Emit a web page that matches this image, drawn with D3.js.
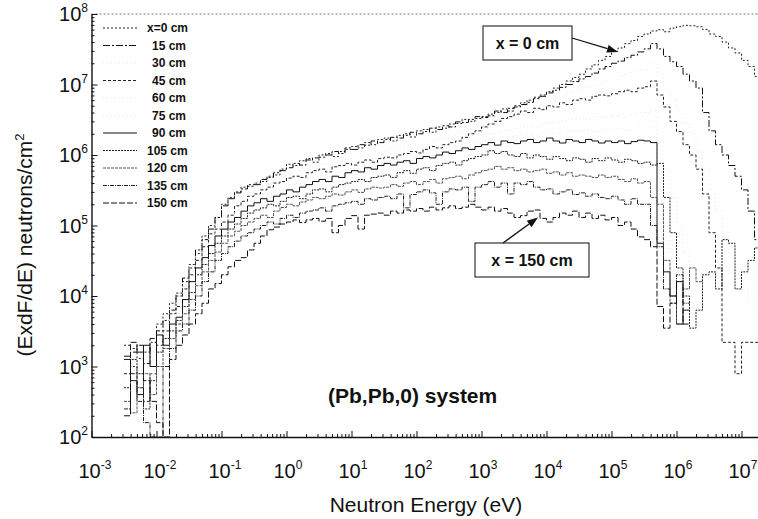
<!DOCTYPE html>
<html>
<head>
<meta charset="utf-8">
<script src="https://cdn.jsdelivr.net/npm/d3@7"></script>
<style>
  body { margin: 0; background: #fff; }
  text { font-family: "Liberation Sans", Arial, Helvetica, sans-serif; fill: #111; }
</style>
</head>
<body>
<div id="chart"></div>
<script>
// energy bins: 10 per decade starting at 10^-2.5 eV (lower edges)
var binStartExp = -2.5, binsPerDecade = 10;

// (E x dF/dE) per bin
var flux0cm = [2.0e3,1.8e3,1.3e3,1.6e3,2.2e3,4.0e3,5.6e3,7.9e3,1.0e4,1.6e4,
  2.8e4,4.0e4,7.1e4,1.0e5,1.3e5,2.0e5,2.5e5,3.0e5,3.5e5,3.8e5,
  4.0e5,4.2e5,5.0e5,5.2e5,6.3e5,7.4e5,7.1e5,8.3e5,8.9e5,7.9e5,
  1.0e6,1.05e6,9.5e5,1.12e6,1.2e6,1.32e6,1.26e6,1.5e6,1.4e6,1.66e6,
  1.74e6,1.58e6,1.9e6,2.0e6,1.8e6,2.2e6,2.3e6,2.1e6,2.5e6,2.4e6,
  2.75e6,2.8e6,3.2e6,3.0e6,3.3e6,3.5e6,3.8e6,4.0e6,4.5e6,4.2e6,
  5.0e6,5.5e6,6.0e6,6.6e6,7.1e6,7.9e6,8.9e6,1.0e7,1.12e7,1.26e7,
  1.4e7,1.66e7,1.9e7,2.2e7,2.5e7,2.95e7,3.3e7,3.8e7,4.2e7,4.8e7,
  5.2e7,5.75e7,6.0e7,5.6e7,6.3e7,6.6e7,6.9e7,6.8e7,6.6e7,6.0e7,
  5.2e7,4.8e7,4.0e7,3.3e7,2.8e7,2.2e7,1.8e7,1.3e7];
var flux15cm = [1.4e3,1.6e3,2.0e3,1.1e3,2.5e3,3.2e3,4.5e3,6.3e3,1.1e4,1.8e4,
  2.5e4,4.5e4,6.3e4,8.9e4,1.3e5,1.9e5,2.4e5,2.9e5,3.3e5,3.6e5,
  3.8e5,4.5e5,4.8e5,5.6e5,6.0e5,6.6e5,7.6e5,7.2e5,8.5e5,9.1e5,
  9.3e5,1.0e6,1.12e6,1.05e6,1.26e6,1.2e6,1.4e6,1.38e6,1.58e6,1.5e6,
  1.66e6,1.78e6,1.74e6,1.9e6,2.1e6,2.0e6,2.15e6,2.4e6,2.3e6,2.6e6,
  2.5e6,2.95e6,2.9e6,3.2e6,3.5e6,3.4e6,3.6e6,4.2e6,4.0e6,4.6e6,
  4.8e6,5.2e6,5.6e6,6.3e6,6.8e6,7.6e6,8.3e6,9.1e6,1.0e7,1.1e7,
  1.2e7,1.3e7,1.45e7,1.66e7,1.8e7,2.0e7,2.15e7,2.4e7,2.6e7,2.9e7,
  3.2e7,3.8e7,3.2e7,2.5e7,2.1e7,1.8e7,1.4e7,1.12e7,8.9e6,4.0e6,
  2.2e6,1.4e6,1.0e6,7.1e5,5.0e5,3.2e5,1.6e5,6.3e4];
var flux30cm = [1.0e3,1.26e3,7.9e2,1.0e3,1.6e3,2.5e3,3.5e3,5.0e3,7.9e3,1.26e4,
  2.2e4,3.5e4,5.6e4,7.9e4,1.05e5,1.3e5,1.66e5,2.1e5,2.5e5,2.95e5,
  3.3e5,3.7e5,4.0e5,4.6e5,5.0e5,5.5e5,5.75e5,6.0e5,6.6e5,6.9e5,
  7.4e5,7.6e5,7.9e5,8.3e5,8.9e5,9.1e5,9.5e5,1.0e6,1.05e6,1.1e6,
  1.15e6,1.26e6,1.2e6,1.35e6,1.41e6,1.38e6,1.58e6,1.55e6,1.74e6,1.7e6,
  1.9e6,2.0e6,2.15e6,2.3e6,2.5e6,2.6e6,2.95e6,3.2e6,3.5e6,3.7e6,
  4.0e6,4.4e6,4.8e6,5.0e6,5.5e6,6.0e6,6.3e6,6.9e6,7.6e6,7.9e6,
  8.5e6,9.1e6,1.0e7,1.07e7,1.15e7,1.2e7,1.32e7,1.41e7,1.51e7,1.58e7,
  1.66e7,2.0e7,1.41e7,8.9e6,6.3e6,4.2e6,2.8e6,2.0e6,1.12e6,6.3e5,
  3.2e5,1.6e5,7.9e4,4.0e4,2.0e4,1.26e4,7.9e3,6.3e3];
var flux45cm = [7.9e2,1.0e3,5.0e2,3.2e2,7.9e2,2.0e3,3.2e3,5.6e3,7.1e3,1.26e4,
  2.0e4,3.2e4,5.0e4,7.6e4,8.9e4,1.12e5,1.4e5,1.9e5,2.2e5,2.6e5,
  2.8e5,3.2e5,3.5e5,4.0e5,4.2e5,4.7e5,5.0e5,4.8e5,5.6e5,6.0e5,
  6.3e5,5.75e5,6.8e5,7.1e5,7.6e5,7.2e5,7.9e5,8.5e5,7.9e5,8.9e5,
  9.3e5,9.1e5,1.0e6,1.05e6,1.12e6,1.07e6,1.2e6,1.32e6,1.26e6,1.4e6,
  1.5e6,1.58e6,1.78e6,2.0e6,2.2e6,2.5e6,2.75e6,3.0e6,3.3e6,3.5e6,
  3.8e6,4.2e6,4.0e6,4.6e6,4.4e6,5.0e6,4.8e6,5.5e6,5.2e6,6.0e6,
  6.3e6,6.0e6,6.8e6,7.1e6,6.9e6,7.4e6,7.9e6,8.3e6,7.9e6,8.9e6,
  9.3e6,1.12e7,7.1e6,4.8e6,3.0e6,2.15e6,1.4e6,1.0e6,6.3e5,2.8e5,
  7.9e4,2.5e4,2.2e3,2.2e3,7.9e2,2.2e3,2.2e3,2.2e3];
var flux60cm = [6.3e2,8.9e2,1.26e3,6.3e2,1.26e3,2.2e3,2.8e3,5.0e3,6.3e3,1.0e4,
  1.78e4,2.8e4,4.2e4,6.3e4,7.9e4,1.0e5,1.26e5,1.6e5,1.9e5,2.2e5,
  2.4e5,2.75e5,2.8e5,3.2e5,3.5e5,3.8e5,4.0e5,4.0e5,4.6e5,5.0e5,
  5.2e5,5.0e5,5.75e5,5.9e5,6.3e5,6.6e5,6.8e5,7.4e5,7.1e5,7.9e5,
  8.3e5,7.9e5,8.9e5,9.1e5,9.3e5,9.8e5,1.07e6,1.1e6,1.12e6,1.23e6,
  1.26e6,1.35e6,1.45e6,1.5e6,1.66e6,1.82e6,2.0e6,2.0e6,2.2e6,2.3e6,
  2.4e6,2.5e6,2.6e6,2.5e6,2.75e6,2.9e6,2.8e6,3.0e6,3.2e6,3.2e6,
  3.3e6,3.2e6,3.5e6,3.5e6,3.4e6,3.6e6,3.8e6,3.5e6,3.8e6,4.0e6,
  4.0e6,4.2e6,1.6e6,6.3e5,2.5e5,1.0e5,4.0e4,1.6e4,7.9e3,4.0e3];
var flux75cm = [4.0e2,1.0e3,6.3e2,1.26e3,7.9e2,2.0e3,2.5e3,4.0e3,5.6e3,8.9e3,
  1.6e4,2.5e4,3.8e4,5.6e4,7.6e4,9.5e4,1.2e5,1.41e5,1.74e5,2.0e5,
  2.2e5,2.5e5,2.5e5,2.9e5,3.2e5,3.5e5,3.4e5,3.8e5,4.0e5,4.4e5,
  4.8e5,4.6e5,5.2e5,5.2e5,5.9e5,6.3e5,6.0e5,6.9e5,6.8e5,7.4e5,
  7.9e5,7.6e5,8.3e5,8.7e5,8.3e5,9.3e5,1.0e6,9.8e5,1.07e6,1.15e6,
  1.12e6,1.23e6,1.32e6,1.32e6,1.45e6,1.58e6,1.66e6,1.58e6,1.78e6,1.82e6,
  1.9e6,2.0e6,2.0e6,1.9e6,2.1e6,2.2e6,2.0e6,2.1e6,2.24e6,2.15e6,
  2.24e6,2.3e6,2.15e6,2.24e6,2.4e6,2.3e6,2.4e6,2.24e6,2.34e6,2.5e6,
  2.4e6,2.5e6,4.0e5,1.0e5,4.0e4,1.6e4,7.9e3];
var flux90cm = [1.26e3,6.3e2,4.0e2,2.0e3,1.0e3,2.8e3,2.0e3,4.0e3,5.0e3,8.9e3,
  1.6e4,2.5e4,3.5e4,5.2e4,7.1e4,8.9e4,1.12e5,1.3e5,1.6e5,1.9e5,
  2.1e5,2.4e5,2.2e5,2.6e5,2.8e5,3.2e5,3.0e5,3.5e5,3.8e5,4.2e5,
  4.5e5,4.2e5,5.0e5,4.8e5,5.6e5,6.0e5,5.75e5,6.6e5,6.3e5,7.1e5,
  7.6e5,7.2e5,7.9e5,8.3e5,7.6e5,8.9e5,9.5e5,9.1e5,1.0e6,1.1e6,
  1.05e6,1.15e6,1.26e6,1.2e6,1.32e6,1.4e6,1.5e6,1.38e6,1.58e6,1.5e6,
  1.45e6,1.58e6,1.66e6,1.5e6,1.58e6,1.74e6,1.58e6,1.48e6,1.66e6,1.58e6,
  1.5e6,1.66e6,1.58e6,1.48e6,1.58e6,1.5e6,1.58e6,1.45e6,1.55e6,1.62e6,
  1.58e6,1.5e6,5.6e4,2.2e4,1.0e4,4.0e3,6.3e3];
var flux105cm = [5.0e2,1.26e3,7.9e2,2.5e2,6.3e2,1.6e3,2.5e3,3.2e3,4.5e3,7.1e3,
  1.12e4,2.0e4,2.8e4,4.0e4,5.6e4,7.1e4,8.9e4,1.05e5,1.26e5,1.5e5,
  1.66e5,1.78e5,2.0e5,1.9e5,2.2e5,2.5e5,2.6e5,2.4e5,2.8e5,3.2e5,
  3.3e5,3.0e5,3.5e5,3.8e5,4.0e5,4.2e5,4.5e5,4.2e5,4.8e5,5.0e5,
  5.2e5,4.8e5,5.6e5,6.0e5,5.5e5,6.3e5,6.6e5,6.0e5,7.1e5,7.6e5,
  7.9e5,7.2e5,8.3e5,8.9e5,9.5e5,1.0e6,1.15e6,1.05e6,1.12e6,1.0e6,
  9.5e5,1.05e6,9.1e5,1.0e6,9.5e5,8.7e5,9.5e5,8.9e5,8.3e5,9.1e5,
  8.7e5,7.9e5,8.9e5,8.3e5,9.1e5,8.5e5,7.9e5,8.7e5,8.3e5,7.6e5,
  7.9e5,7.2e5,7.6e5,2.5e5,7.9e4,2.5e4,1.0e4,3.5e3,6.3e3,2.0e4,
  2.2e4,1.26e4,6.3e4,5.6e4,1.26e4,2.2e4,3.2e4,4.8e4];
var flux120cm = [3.2e2,2.2e2,5.0e2,7.9e2,4.0e2,1.0e3,1.8e3,2.5e3,4.0e3,5.6e3,
  8.9e3,1.4e4,2.2e4,3.2e4,4.2e4,5.6e4,7.1e4,8.3e4,1.0e5,1.12e5,
  1.26e5,1.4e5,1.3e5,1.6e5,1.8e5,2.0e5,1.9e5,2.15e5,2.3e5,2.5e5,
  2.4e5,2.6e5,2.8e5,2.7e5,3.0e5,3.2e5,2.95e5,3.3e5,3.5e5,3.4e5,
  3.5e5,3.8e5,3.6e5,4.0e5,4.2e5,3.8e5,4.2e5,4.5e5,4.0e5,4.6e5,
  4.8e5,5.0e5,4.6e5,5.2e5,5.6e5,6.0e5,6.3e5,6.9e5,6.3e5,6.6e5,
  6.0e5,6.3e5,5.75e5,6.0e5,6.3e5,5.5e5,5.75e5,5.2e5,5.6e5,5.0e5,
  5.2e5,5.0e5,4.8e5,5.2e5,4.8e5,5.0e5,4.5e5,4.2e5,4.6e5,4.0e5,
  4.2e5,2.5e5,2.0e5,3.2e4,7.9e3,4.0e3,1.26e4,2.5e4,1.6e4];
var flux135cm = [2.5e2,7.9e2,3.2e2,1.6e2,1.0e2,1.0e2,1.0e3,1.8e3,3.2e3,4.0e3,
  6.3e3,1.0e4,1.6e4,2.2e4,3.2e4,4.0e4,5.0e4,6.0e4,7.1e4,7.9e4,
  8.9e4,1.0e5,1.12e5,1.05e5,1.26e5,1.4e5,1.3e5,1.5e5,1.6e5,1.66e5,
  1.78e5,1.6e5,1.9e5,2.0e5,2.1e5,2.2e5,2.0e5,2.4e5,2.3e5,2.5e5,
  2.6e5,2.4e5,2.8e5,1.78e5,2.75e5,3.0e5,3.2e5,2.9e5,2.0e5,3.0e5,
  3.3e5,3.2e5,3.5e5,2.2e5,3.5e5,3.8e5,4.2e5,3.5e5,4.0e5,2.8e5,
  4.0e5,3.8e5,4.2e5,3.5e5,3.2e5,3.3e5,2.8e5,3.0e5,3.2e5,2.75e5,
  2.9e5,2.6e5,2.8e5,2.5e5,2.4e5,2.6e5,2.3e5,2.0e5,2.4e5,2.0e5,
  2.0e5,1.0e5,5.0e4,1.26e4,1.0e4,2.0e4,7.9e3];
var flux150cm = [2.0e2,2.2e3,1.6e3,6.3e2,3.2e2,1.6e2,1.0e2,1.26e3,2.0e3,2.8e3,
  4.0e3,5.6e3,7.9e3,1.26e4,1.5e4,2.0e4,2.6e4,3.2e4,3.5e4,4.5e4,
  5.6e4,7.1e4,8.7e4,9.5e4,1.05e5,1.12e5,1.2e5,1.1e5,1.2e5,1.26e5,
  1.15e5,1.26e5,7.9e4,1.0e5,1.26e5,1.38e5,8.9e4,1.4e5,1.45e5,1.5e5,
  1.4e5,1.6e5,1.5e5,1.66e5,1.6e5,1.74e5,1.6e5,1.82e5,1.66e5,1.78e5,
  1.9e5,1.74e5,1.82e5,2.0e5,1.82e5,1.66e5,1.82e5,1.6e5,1.74e5,1.5e5,
  1.3e5,1.38e5,1.6e5,1.66e5,1.26e5,1.12e5,1.3e5,1.5e5,1.4e5,1.6e5,
  1.3e5,1.5e5,1.26e5,1.4e5,1.2e5,1.3e5,1.0e5,1.12e5,8.9e4,6.9e4,
  6.3e4,5.0e4,7.1e3,3.5e3,7.9e3,1.6e4,4.0e3];

var seriesNames = ['x=0 cm','15 cm','30 cm','45 cm','60 cm','75 cm','90 cm','105 cm','120 cm','135 cm','150 cm'];
var seriesValues = [flux0cm, flux15cm, flux30cm, flux45cm, flux60cm, flux75cm, flux90cm, flux105cm, flux120cm, flux135cm, flux150cm];
var seriesDash = ['2,2', '7,2,2,2', '1,3', '3,2', '1,3', '1,3', null, '2,1', '3,1', '4,1,1,1', '6,2'];
var seriesColor = ['#222', '#111', '#ebebeb', '#222', '#ebebeb', '#ebebeb', '#111', '#222', '#555', '#222', '#111'];

var xTickValues = [1e-3,1e-2,1e-1,1e0,1e1,1e2,1e3,1e4,1e5,1e6,1e7];
var xTickExp = ['-3','-2','-1','0','1','2','3','4','5','6','7'];
var yTickValues = [1e2,1e3,1e4,1e5,1e6,1e7,1e8];
var yTickExp = ['2','3','4','5','6','7','8'];

var W = 758, H = 519;
var plotLeft = 91.5, plotTop = 14, plotBottom = 437;

var svg = d3.select('#chart').append('svg')
  .attr('width', W)
  .attr('height', H);

var x = d3.scaleLog().domain([1e-3, 2e7]).range([plotLeft, plotLeft + 65 * Math.log10(2e10)]);
var y = d3.scaleLog().domain([1e2, 1e8]).range([plotBottom, plotTop]);

function binEdge(i){
  return Math.pow(10, binStartExp + i / binsPerDecade);
}

function minorTicks(majors){
  var out = [];
  majors.forEach(function(m){
    for (var k = 2; k <= 9; k++) out.push(m * k);
  });
  return out;
}

svg.append('defs').append('clipPath').attr('id', 'plotClip')
  .append('rect')
  .attr('x', plotLeft).attr('y', plotTop - 2)
  .attr('width', W - plotLeft).attr('height', plotBottom - plotTop + 2);

// top frame (faint dotted)
svg.append('line')
  .attr('x1', plotLeft).attr('x2', W)
  .attr('y1', plotTop).attr('y2', plotTop)
  .attr('stroke', '#777').attr('stroke-width', 1)
  .attr('stroke-dasharray', '2,2');

// histograms
var line = d3.line()
  .x(function(d){ return x(d[0]); })
  .y(function(d){ return y(Math.max(d[1], 1e2)); })
  .curve(d3.curveStepAfter);

var plot = svg.append('g').attr('clip-path', 'url(#plotClip)');
seriesValues.forEach(function(vals, s){
  var pts = vals.map(function(v, i){ return [binEdge(i), v]; });
  pts.push([binEdge(vals.length), vals[vals.length - 1]]);
  plot.append('path')
    .datum(pts)
    .attr('d', line)
    .attr('fill', 'none')
    .attr('stroke', seriesColor[s])
    .attr('stroke-width', 1)
    .attr('stroke-dasharray', seriesDash[s]);
});

// axes
var xAxis = svg.append('g').attr('transform', 'translate(0,' + plotBottom + ')');
xAxis.call(d3.axisBottom(x).tickValues(xTickValues).tickSize(-6).tickSizeOuter(0).tickFormat(''));
xAxis.append('g').call(d3.axisBottom(x).tickValues(minorTicks(xTickValues.slice(0, 10)).concat([2e7])).tickSize(-3).tickSizeOuter(0).tickFormat(''))
  .select('.domain').remove();

var yAxis = svg.append('g').attr('transform', 'translate(' + plotLeft + ',0)');
yAxis.call(d3.axisLeft(y).tickValues(yTickValues).tickSize(-6).tickSizeOuter(0).tickFormat(''));
yAxis.append('g').call(d3.axisLeft(y).tickValues(minorTicks(yTickValues.slice(0, 6))).tickSize(-3).tickSizeOuter(0).tickFormat(''))
  .select('.domain').remove();

svg.selectAll('.domain').attr('stroke', '#111').attr('stroke-width', 1.4);
svg.selectAll('.tick line').attr('stroke', '#111').attr('stroke-width', 1);

// tick labels with superscripts
var xl = svg.selectAll('.xlab')
  .data(xTickValues)
  .enter()
  .append('text')
  .attr('class', 'xlab')
  .attr('x', function(d){ return x(d) - 13; })
  .attr('y', 478)
  .style('font-size', '20px');
xl.append('tspan').text('10');
xl.append('tspan')
  .attr('dy', -9)
  .style('font-size', '12px')
  .text(function(d, i){ return xTickExp[i]; });

var yl = svg.selectAll('.ylab')
  .data(yTickValues)
  .enter()
  .append('text')
  .attr('class', 'ylab')
  .attr('x', 88)
  .attr('y', function(d){ return y(d) + 7; })
  .attr('text-anchor', 'end')
  .style('font-size', '20px');
yl.append('tspan').text('10');
yl.append('tspan')
  .attr('dy', -9)
  .style('font-size', '12px')
  .text(function(d, i){ return yTickExp[i]; });

// axis titles
svg.append('text')
  .attr('x', 426).attr('y', 512)
  .attr('text-anchor', 'middle')
  .style('font-size', '21px')
  .text('Neutron Energy (eV)');

var yt = svg.append('text')
  .attr('transform', 'translate(32,245) rotate(-90)')
  .attr('text-anchor', 'middle')
  .style('font-size', '21px');
yt.append('tspan').text('(ExdF/dE) neutrons/cm');
yt.append('tspan').attr('dy', -8).style('font-size', '13px').text('2');

// legend
var legend = svg.selectAll('.leg')
  .data(seriesNames)
  .enter()
  .append('g')
  .attr('class', 'leg')
  .attr('transform', function(d, i){ return 'translate(0,' + (28 + 17.5 * i) + ')'; });
legend.append('line')
  .attr('x1', 103).attr('x2', 137)
  .attr('stroke', function(d, i){ return seriesColor[i]; })
  .attr('stroke-width', 1)
  .attr('stroke-dasharray', function(d, i){ return seriesDash[i]; });
legend.append('text')
  .attr('x', function(d){ return d.length >= 6 ? 147 : 152; })
  .attr('y', 4)
  .style('font-size', '12px')
  .style('font-weight', 'bold')
  .text(function(d){ return d; });

// annotations
function callout(label, tipE, tipV, boxX, boxY, boxW, tailX, tailY){
  var tx = x(tipE), ty = y(tipV);
  var g = svg.append('g');
  g.append('rect')
    .attr('x', boxX).attr('y', boxY)
    .attr('width', boxW).attr('height', 34)
    .attr('fill', '#fff')
    .attr('stroke', '#333').attr('stroke-width', 1.2);
  g.append('text')
    .attr('x', boxX + boxW / 2).attr('y', boxY + 23)
    .attr('text-anchor', 'middle')
    .style('font-size', '16px').style('font-weight', 'bold')
    .text(label);
  var ang = Math.atan2(ty - tailY, tx - tailX);
  var hl = 11, hw = 4;
  var bx = tx - hl * Math.cos(ang), by = ty - hl * Math.sin(ang);
  g.append('line')
    .attr('x1', tailX).attr('y1', tailY)
    .attr('x2', bx).attr('y2', by)
    .attr('stroke', '#111').attr('stroke-width', 1.3);
  g.append('path')
    .attr('d', 'M' + tx + ',' + ty +
      'L' + (bx + hw * Math.sin(ang)) + ',' + (by - hw * Math.cos(ang)) +
      'L' + (bx - hw * Math.sin(ang)) + ',' + (by + hw * Math.cos(ang)) + 'Z')
    .attr('fill', '#111');
}
callout('x = 0 cm', 1.26e5, 2.9e7, 483, 26, 89, 572, 38);
callout('x = 150 cm', 7.4e3, 1.3e5, 475, 243, 114, 503, 243);

svg.append('text')
  .attr('x', 328).attr('y', 403)
  .style('font-size', '21px').style('font-weight', 'bold')
  .text('(Pb,Pb,0) system');
</script>
</body>
</html>
